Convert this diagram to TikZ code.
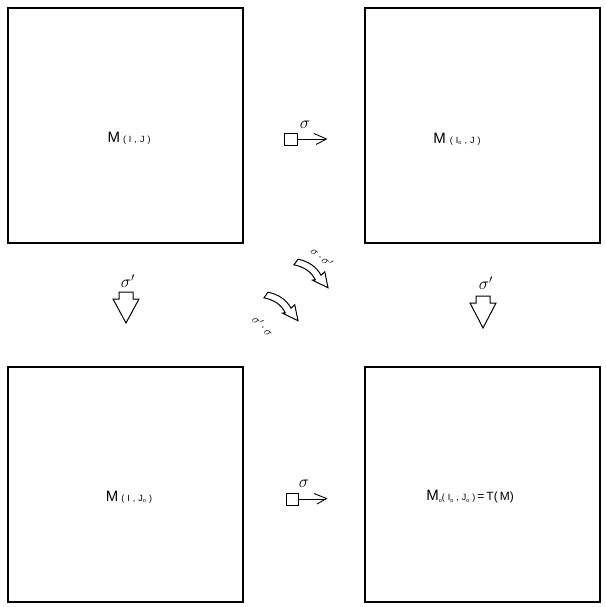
\documentclass[tikz,border=0pt]{standalone}
\usepackage{fontspec}
\setmainfont{Liberation Sans}
\newcommand\bigM{{\fontsize{15}{15}\selectfont M}}
\newcommand\smtx[1]{{\fontsize{9}{9}\selectfont #1}}
\newcommand\lsp{\hspace{3pt}}
\newcommand\subo{\raisebox{-1.5pt}{\fontsize{5.5}{5.5}\selectfont o}}
\begin{document}
\begin{tikzpicture}[x=1pt,y=-1pt,
  box/.style={draw=black,line width=1.4pt,minimum width=235pt,minimum height=235pt,inner sep=0pt},
  lbl/.style={inner sep=0pt},
  sig/.style={inner sep=0pt,font=\fontsize{18}{18}\selectfont},
  dsig/.style={inner sep=0pt,font=\fontsize{12}{12}\selectfont},
  blk/.style={draw=black,line width=1pt,fill=white,line join=miter},
  harrow/.style={draw=black,line width=0.9pt}]
\fill[white] (0,0) rectangle (605,607);
\useasboundingbox (0,0) rectangle (605,607);
% boxes
\node[box] (tl) at (125.5,125.5) {};
\node[box] (tr) at (482.5,125.5) {};
\node[box] (bl) at (125.5,484.5) {};
\node[box] (br) at (482.5,484.5) {};
% labels
\node[lbl] (ltl) at (129,138) {\bigM\hspace{3pt}\smtx{(\lsp I\lsp,\lsp J\lsp)}};
\node[lbl] (ltr) at (457,139) {\bigM\hspace{4pt}\smtx{(\lsp I\subo\lsp,\lsp J\lsp)}};
\node[lbl] (lbl) at (129,497) {\bigM\hspace{3pt}\smtx{(\lsp I\lsp,\lsp J\subo\lsp)}};
\node[lbl] (lbr) at (470,497) {\bigM\subo\smtx{(\lsp I\subo\lsp,\lsp J\subo\lsp)}\hspace{2pt}{\fontsize{12}{12}\selectfont =\hspace{2pt}T(\hspace{2pt}M)}};
% horizontal arrows
\draw[harrow] (284,133) rectangle (297,145);
\draw[harrow] (297,139.5) -- (326,139.5);
\draw[harrow] (314,133.5) -- (326.5,139) -- (316,144.5);
\node[sig] (s1) at (305,125) {$\sigma$};
\draw[harrow] (286,493) rectangle (298,505);
\draw[harrow] (298,499) -- (326,499);
\draw[harrow] (314,493.5) -- (326.5,498.5) -- (317,504);
\node[sig] (s2) at (304,484) {$\sigma$};
% vertical block arrows
\draw[blk] (119,292) -- (133,292) -- (133,299) -- (139,299) -- (126,323) -- (113,299) -- (119,299) -- cycle;
\node[sig] (s3) at (128,281) {$\sigma'$};
\draw[blk] (476,296) -- (490,296) -- (490,303) -- (496,303) -- (483,328) -- (470,303) -- (476,303) -- cycle;
\node[sig] (s4) at (486,283) {$\sigma'$};
% diagonal curved block arrows
\begin{scope}[shift={(296,262)},x={(0.809pt,-0.588pt)},y={(0.588pt,0.809pt)}]
\draw[blk] (0,3.5) .. controls (10,8) and (20,8) .. (28,4) -- (29,9) -- (41,-2) -- (24,-5) -- (26,-3) .. controls (18,1) and (10,1) .. (0,-3.5) -- cycle;
\end{scope}
\node[dsig,rotate=-40] (s5) at (322,257) {$\sigma\,{\cdot}\,\sigma'$};
\begin{scope}[shift={(266,295)},x={(0.809pt,-0.588pt)},y={(0.588pt,0.809pt)}]
\draw[blk] (0,3.5) .. controls (10,8) and (20,8) .. (28,4) -- (29,9) -- (41,-2) -- (24,-5) -- (26,-3) .. controls (18,1) and (10,1) .. (0,-3.5) -- cycle;
\end{scope}
\node[dsig,rotate=-45] (s6) at (263,326) {$\sigma'\,{\cdot}\,\sigma$};
\end{tikzpicture}
\end{document}
